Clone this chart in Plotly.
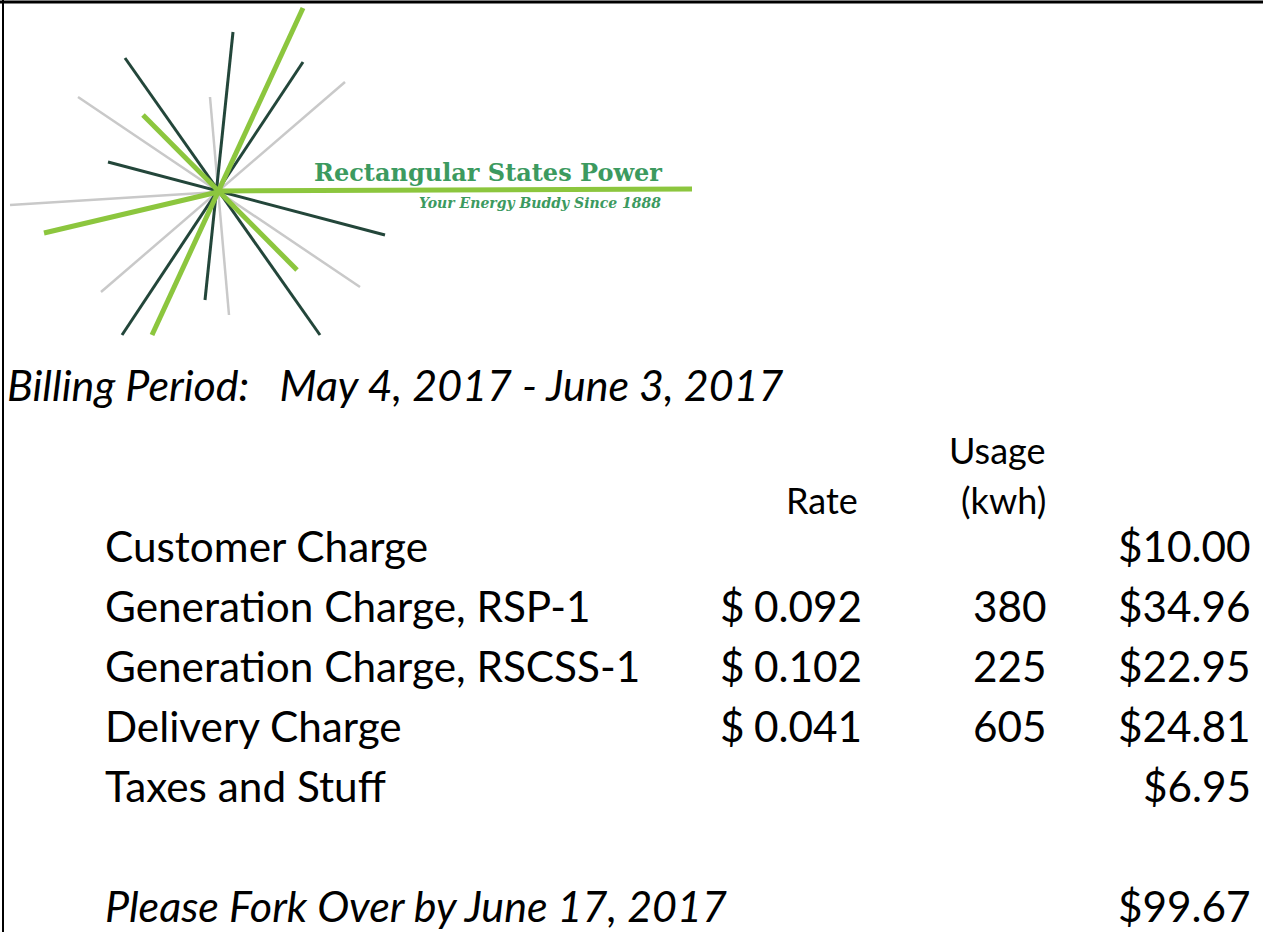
import plotly.graph_objects as go

W, H = 1263, 932

# ---- Bill data ----
items = ["Customer Charge", "Generation Charge, RSP-1", "Generation Charge, RSCSS-1",
         "Delivery Charge", "Taxes and Stuff"]
rates = [None, 0.092, 0.102, 0.041, None]
usage = [None, 380, 225, 605, None]
amounts = [10.00, 34.96, 22.95, 24.81, 6.95]
total = 99.67
billing_period = "Billing Period:\u00a0\u00a0\u00a0May 4, 2017 - June 3, 2017"
due_text = "Please Fork Over by June 17, 2017"
company = "Rectangular States Power"
slogan = "Your Energy Buddy Since 1888"
header_rate = "Rate"
header_usage = ["Usage", "(kwh)"]

# ---- Logo starburst segments (x0, y0, x1, y1, kind) ----
logo_x0 = [303, 233, 125, 303, 345, 78, 210, 143, 108, 10, 44, 218]
logo_y0 = [8, 32, 58, 62, 82, 97, 97, 115, 162, 205, 233, 191]
logo_x1 = [152, 205, 320, 122, 101, 360, 229, 297, 385, 218, 218, 692]
logo_y1 = [335, 300, 335, 335, 292, 287, 315, 270, 235, 192, 192, 189]
logo_kind = ["lime", "dark", "dark", "dark", "gray", "gray", "gray", "lime", "dark",
             "gray", "lime", "lime"]

styles = {"lime": ("#8cc63e", 5), "dark": ("#23463a", 3), "gray": ("#c9c9c9", 2.5)}

fig = go.Figure()
for kind in ["gray", "dark", "lime"]:
    xs, ys = [], []
    for i, k in enumerate(logo_kind):
        if k == kind:
            xs += [logo_x0[i], logo_x1[i], None]
            ys += [logo_y0[i], logo_y1[i], None]
    c, w = styles[kind]
    fig.add_trace(go.Scatter(x=xs, y=ys, mode="lines", line=dict(color=c, width=w),
                             hoverinfo="skip", showlegend=False))

FONT = "Lato"
FS = 42.3
FSI = 43
FSH = 36
ann = []

def add(text, x, y, anchor="left", size=FS, italic=False, family=FONT, color="black", bold=False):
    t = text
    if bold:
        t = "<b>" + t + "</b>"
    if italic:
        t = "<i>" + t + "</i>"
    ann.append(dict(text=t, x=x, y=y, xref="x", yref="y", xanchor=anchor, yanchor="middle",
                    showarrow=False, font=dict(family=family, size=size, color=color)))

# logo text
add(company, 312, 172, "left", 24, family="DejaVu Serif", color="#3c9a5f", bold=True)
add(slogan, 663, 203, "right", 14, italic=True, family="DejaVu Serif", color="#3c9a5f", bold=True)

add(billing_period, 5, 384, "left", FSI, italic=True)
add(header_usage[0], 1048, 450, "right", FSH)
add(header_usage[1], 1048, 500, "right", FSH)
add(header_rate, 860, 500, "right", FSH)

row_y = [545, 605, 665, 725, 785]
for i, name in enumerate(items):
    y = row_y[i]
    add(name, 103, y, "left")
    if rates[i] is not None:
        add("$", 718, y, "left")
        add(f"{rates[i]:.3f}", 864, y, "right")
    if usage[i] is not None:
        add(f"{usage[i]}", 1049, y, "right")
    add(f"${amounts[i]:.2f}", 1253, y, "right")

add(due_text, 103, 905, "left", FSI, italic=True)
add(f"${total:.2f}", 1253, 905, "right")

fig.update_layout(
    width=W, height=H, margin=dict(l=0, r=0, t=0, b=0),
    paper_bgcolor="white", plot_bgcolor="white",
    xaxis=dict(range=[0, W], visible=False, fixedrange=True),
    yaxis=dict(range=[H, 0], visible=False, fixedrange=True),
    annotations=ann,
    shapes=[
        dict(type="line", xref="x", yref="y", x0=0, x1=W, y0=2, y1=2, line=dict(color="black", width=3)),
        dict(type="line", xref="x", yref="y", x0=3, x1=3, y0=0, y1=H, line=dict(color="black", width=2)),
    ],
)
fig.write_html("out.html", config={"displayModeBar": False},
               post_script="document.body.style.margin='0';document.body.style.overflow='hidden';")
